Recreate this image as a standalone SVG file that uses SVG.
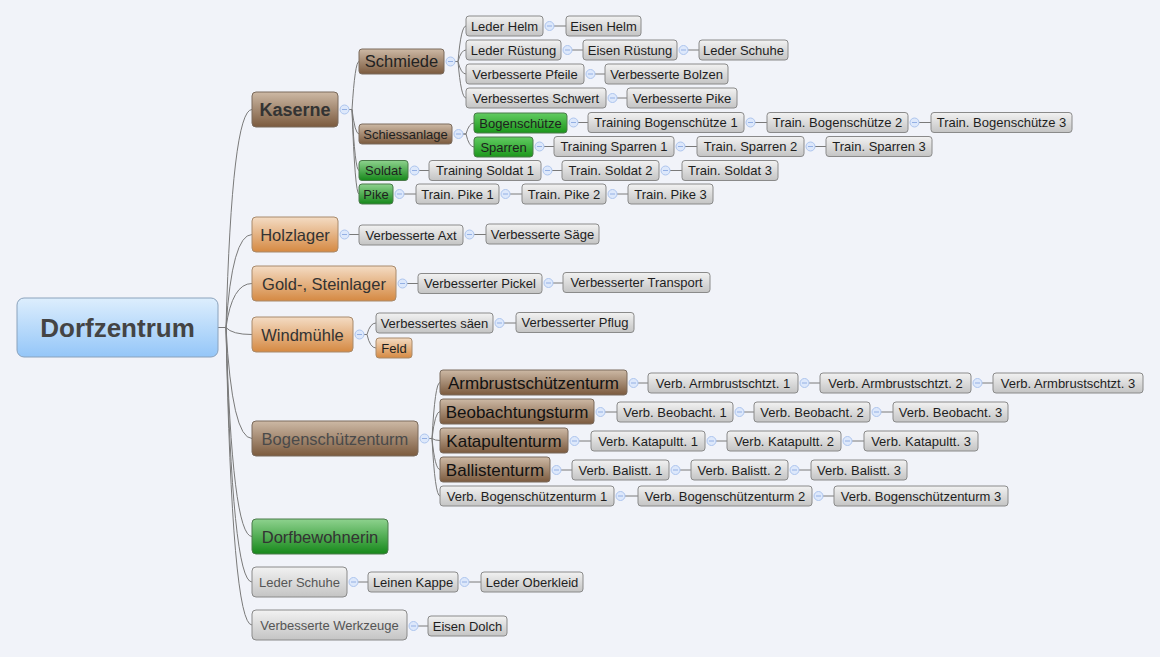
<svg xmlns="http://www.w3.org/2000/svg" xmlns:xlink="http://www.w3.org/1999/xlink" width="1160" height="657" viewBox="0 0 1160 657">
<defs>
<linearGradient id="gGray" x1="0" y1="0" x2="0" y2="1"><stop offset="0" stop-color="#f2f2f2"/><stop offset="1" stop-color="#c4c4c4"/></linearGradient>
<linearGradient id="gBrown" x1="0" y1="0" x2="0" y2="1"><stop offset="0" stop-color="#cdb9a5"/><stop offset="1" stop-color="#7b5a3e"/></linearGradient>
<linearGradient id="gOrange" x1="0" y1="0" x2="0" y2="1"><stop offset="0" stop-color="#f4dcc4"/><stop offset="1" stop-color="#d58942"/></linearGradient>
<linearGradient id="gGreen" x1="0" y1="0" x2="0" y2="1"><stop offset="0" stop-color="#8ed28e"/><stop offset="1" stop-color="#16881a"/></linearGradient>
<linearGradient id="gGreen2" x1="0" y1="0" x2="0" y2="1"><stop offset="0" stop-color="#62cc62"/><stop offset="1" stop-color="#1c961c"/></linearGradient>
<linearGradient id="gBlue" x1="0" y1="0" x2="0" y2="1"><stop offset="0" stop-color="#ddeefd"/><stop offset="1" stop-color="#94c6f8"/></linearGradient>
<g id="tog"><circle cx="0" cy="0" r="4.5" fill="#dde8fb" stroke="#adc5ee" stroke-width="1"/><line x1="-2.5" y1="0" x2="2.5" y2="0" stroke="#94b0e4" stroke-width="1"/></g>
</defs>
<style>
text{font-family:"Liberation Sans",Arial,sans-serif;text-anchor:middle;fill:#1e1e1e}
rect{stroke:#8a8a8a;stroke-width:1}
rect.bg{fill:#f1f3f9;stroke:none}
.gray{fill:url(#gGray)}
.brown{fill:url(#gBrown);stroke:#7a6a5c}
.orange{fill:url(#gOrange);stroke:#a88a6c}
.green{fill:url(#gGreen);stroke:#4a7a4a}
.green2{fill:url(#gGreen2);stroke:#4a7a4a}
.blue{fill:url(#gBlue);stroke:#8aa2bc}
.s{font-size:13px}
.m{font-size:16.5px}
.l{font-size:17px;fill:#333}
.dim{fill:#555}
.conn path,.conn line{fill:none;stroke:#7a7a7a;stroke-width:1}
</style>
<rect class="bg" x="0" y="0" width="1160" height="657"/>

<g class="conn">
<!-- root -->
<path d="M218,327.5 H226 Q232,109.5 252,109.5"/>
<path d="M218,327.5 H226 Q232,234.5 252,234.5"/>
<path d="M218,327.5 H226 Q232,283.5 252,283.5"/>
<path d="M218,327.5 H226 Q232,334.5 252,334.5"/>
<path d="M218,327.5 H226 Q232,438.5 252,438.5"/>
<path d="M218,327.5 H226 Q232,536.5 252,536.5"/>
<path d="M218,327.5 H226 Q232,582 252,582"/>
<path d="M218,327.5 H226 Q232,625 252,625"/>
<!-- Kaserne -->
<path d="M349,109.5 H352 Q355,61.5 359,61.5"/>
<path d="M349,109.5 H352 Q355,134 359,134"/>
<path d="M349,109.5 H352 Q355,170.5 359,170.5"/>
<path d="M349,109.5 H352 Q355,194 359,194"/>
<!-- Schmiede -->
<path d="M455,61.5 H458 Q461,26 466,26"/>
<path d="M455,61.5 H458 Q461,50 466,50"/>
<path d="M455,61.5 H458 Q461,74 466,74"/>
<path d="M455,61.5 H458 Q461,98 466,98"/>
<!-- Schiessanlage -->
<path d="M463,134 H466 Q469,123 474,123"/>
<path d="M463,134 H466 Q469,147 474,147"/>
<!-- Windmuehle -->
<path d="M364,334.5 H367 Q370,323 376,323"/>
<path d="M364,334.5 H367 Q370,348 376,348"/>
<!-- Bogenschuetzenturm -->
<path d="M429,438.5 H432 Q435,382.5 440,382.5"/>
<path d="M429,438.5 H432 Q435,411.5 440,411.5"/>
<path d="M429,438.5 H432 Q435,440.5 440,440.5"/>
<path d="M429,438.5 H432 Q435,469.5 440,469.5"/>
<path d="M429,438.5 H432 Q435,496 440,496"/>
<!-- chains -->
<line x1="554" y1="26" x2="566" y2="26"/>
<line x1="572" y1="50" x2="583" y2="50"/><line x1="688" y1="50" x2="699" y2="50"/>
<line x1="595" y1="74" x2="605" y2="74"/>
<line x1="617" y1="98" x2="627" y2="98"/>
<line x1="578" y1="122.5" x2="588" y2="122.5"/><line x1="755" y1="122.5" x2="767" y2="122.5"/><line x1="919" y1="122.5" x2="931" y2="122.5"/>
<line x1="544" y1="146.5" x2="554" y2="146.5"/><line x1="685" y1="146.5" x2="697" y2="146.5"/><line x1="815" y1="146.5" x2="826" y2="146.5"/>
<line x1="419" y1="170.5" x2="429" y2="170.5"/><line x1="552" y1="170.5" x2="562" y2="170.5"/><line x1="670" y1="170.5" x2="682" y2="170.5"/>
<line x1="404" y1="194" x2="416" y2="194"/><line x1="510" y1="194" x2="522" y2="194"/><line x1="617" y1="194" x2="628" y2="194"/>
<line x1="349" y1="234.5" x2="359" y2="234.5"/><line x1="474" y1="234.5" x2="486" y2="234.5"/>
<line x1="407" y1="283.5" x2="418" y2="283.5"/><line x1="553" y1="283" x2="563" y2="283"/>
<line x1="504" y1="323" x2="516" y2="323"/>
<line x1="638" y1="383" x2="648" y2="383"/><line x1="809" y1="383" x2="820" y2="383"/><line x1="982" y1="383" x2="993" y2="383"/>
<line x1="605" y1="412" x2="617" y2="412"/><line x1="744" y1="412" x2="754" y2="412"/><line x1="881" y1="412" x2="893" y2="412"/>
<line x1="579" y1="441" x2="591" y2="441"/><line x1="716" y1="441" x2="727" y2="441"/><line x1="852" y1="441" x2="864" y2="441"/>
<line x1="561" y1="470" x2="572" y2="470"/><line x1="680" y1="470" x2="691" y2="470"/><line x1="799" y1="470" x2="811" y2="470"/>
<line x1="625" y1="496" x2="638" y2="496"/><line x1="823" y1="496" x2="834" y2="496"/>
<line x1="358" y1="582" x2="368" y2="582"/><line x1="469" y1="582" x2="481" y2="582"/>
<line x1="418" y1="626" x2="428" y2="626"/>
</g>

<g id="toggles">
<use xlink:href="#tog" x="344.5" y="109.5"/>
<use xlink:href="#tog" x="450.5" y="61.5"/>
<use xlink:href="#tog" x="458.5" y="134"/>
<use xlink:href="#tog" x="359.5" y="334.5"/>
<use xlink:href="#tog" x="424.5" y="438.5"/>
<use xlink:href="#tog" x="549.5" y="26"/>
<use xlink:href="#tog" x="567.5" y="50"/><use xlink:href="#tog" x="683.5" y="50"/>
<use xlink:href="#tog" x="590.5" y="74"/>
<use xlink:href="#tog" x="612.5" y="98"/>
<use xlink:href="#tog" x="573.5" y="122.5"/><use xlink:href="#tog" x="750.5" y="122.5"/><use xlink:href="#tog" x="914.5" y="122.5"/>
<use xlink:href="#tog" x="539.5" y="146.5"/><use xlink:href="#tog" x="680.5" y="146.5"/><use xlink:href="#tog" x="810.5" y="146.5"/>
<use xlink:href="#tog" x="414.5" y="170.5"/><use xlink:href="#tog" x="547.5" y="170.5"/><use xlink:href="#tog" x="665.5" y="170.5"/>
<use xlink:href="#tog" x="399.5" y="194"/><use xlink:href="#tog" x="505.5" y="194"/><use xlink:href="#tog" x="612.5" y="194"/>
<use xlink:href="#tog" x="344.5" y="234.5"/><use xlink:href="#tog" x="469.5" y="234.5"/>
<use xlink:href="#tog" x="402.5" y="283.5"/><use xlink:href="#tog" x="548.5" y="283"/>
<use xlink:href="#tog" x="499.5" y="323"/>
<use xlink:href="#tog" x="633.5" y="383"/><use xlink:href="#tog" x="804.5" y="383"/><use xlink:href="#tog" x="977.5" y="383"/>
<use xlink:href="#tog" x="600.5" y="412"/><use xlink:href="#tog" x="739.5" y="412"/><use xlink:href="#tog" x="876.5" y="412"/>
<use xlink:href="#tog" x="574.5" y="441"/><use xlink:href="#tog" x="711.5" y="441"/><use xlink:href="#tog" x="847.5" y="441"/>
<use xlink:href="#tog" x="556.5" y="470"/><use xlink:href="#tog" x="675.5" y="470"/><use xlink:href="#tog" x="794.5" y="470"/>
<use xlink:href="#tog" x="620.5" y="496"/><use xlink:href="#tog" x="818.5" y="496"/>
<use xlink:href="#tog" x="353.5" y="582"/><use xlink:href="#tog" x="464.5" y="582"/>
<use xlink:href="#tog" x="413.5" y="626"/>
</g>

<g id="dorfzentrum"><rect class="blue" x="17" y="298" width="201" height="59" rx="7"/><text x="117.5" y="336.5" style="font-size:26px;font-weight:bold;fill:#444">Dorfzentrum</text></g>

<g id="kaserne"><rect class="brown" x="252" y="92" width="86" height="35" rx="4"/><text x="295" y="116" style="font-size:18px;font-weight:bold;fill:#333">Kaserne</text></g>
<g id="holzlager"><rect class="orange" x="252" y="217" width="86" height="35" rx="4"/><text class="m" x="295" y="240.5" style="fill:#333">Holzlager</text></g>
<g id="goldsteinlager"><rect class="orange" x="252" y="266" width="144" height="35" rx="4"/><text class="m" x="324" y="289.5" style="fill:#333">Gold-, Steinlager</text></g>
<g id="windmuehle"><rect class="orange" x="252" y="317" width="101" height="35" rx="4"/><text class="m" x="302.5" y="340.5" style="fill:#333">Windmühle</text></g>
<g id="bogenschuetzenturm"><rect class="brown" x="252" y="421" width="166" height="35" rx="4"/><text class="m" x="335" y="444.5" style="fill:#4a4a4a">Bogenschützenturm</text></g>
<g id="dorfbewohnerin"><rect class="green" x="252" y="519" width="136" height="35" rx="4"/><text class="m" x="320" y="542.5" style="fill:#333">Dorfbewohnerin</text></g>
<g id="lederschuhe-main"><rect class="gray" x="252" y="567" width="95" height="30" rx="4"/><text class="s dim" x="299.5" y="586.5">Leder Schuhe</text></g>
<g id="verbesserte-werkzeuge"><rect class="gray" x="252" y="610" width="155" height="30" rx="4"/><text class="s dim" x="329.5" y="629.5">Verbesserte Werkzeuge</text></g>

<g id="schmiede"><rect class="brown" x="359" y="49" width="85" height="25" rx="3"/><text x="401.5" y="67.3" style="font-size:16.5px;fill:#222">Schmiede</text></g>
<g id="schiessanlage"><rect class="brown" x="359" y="124" width="93" height="20" rx="3"/><text class="s" x="405.5" y="138.5">Schiessanlage</text></g>
<g id="soldat"><rect class="green" x="359" y="160.5" width="49" height="20" rx="3"/><text class="s" x="383.5" y="175">Soldat</text></g>
<g id="pike"><rect class="green" x="359" y="184" width="34" height="20" rx="3"/><text class="s" x="376" y="198.5">Pike</text></g>

<g id="lederhelm"><rect class="gray" x="466" y="16" width="77" height="20" rx="3"/><text class="s" x="504.5" y="30.5">Leder Helm</text></g>
<g id="eisenhelm"><rect class="gray" x="566" y="16" width="75" height="20" rx="3"/><text class="s" x="603.5" y="30.5">Eisen Helm</text></g>
<g id="lederruestung"><rect class="gray" x="466" y="40" width="95" height="20" rx="3"/><text class="s" x="513.5" y="54.5">Leder Rüstung</text></g>
<g id="eisenruestung"><rect class="gray" x="583" y="40" width="94" height="20" rx="3"/><text class="s" x="630" y="54.5">Eisen Rüstung</text></g>
<g id="lederschuhe"><rect class="gray" x="699" y="40" width="89" height="20" rx="3"/><text class="s" x="743.5" y="54.5">Leder Schuhe</text></g>
<g id="pfeile"><rect class="gray" x="466" y="64" width="118" height="20" rx="3"/><text class="s" x="525" y="78.5">Verbesserte Pfeile</text></g>
<g id="bolzen"><rect class="gray" x="605" y="64" width="123" height="20" rx="3"/><text class="s" x="666.5" y="78.5">Verbesserte Bolzen</text></g>
<g id="schwert"><rect class="gray" x="466" y="88" width="140" height="20" rx="3"/><text class="s" x="536" y="102.5">Verbessertes Schwert</text></g>
<g id="vpike"><rect class="gray" x="627" y="88" width="110" height="20" rx="3"/><text class="s" x="682" y="102.5">Verbesserte Pike</text></g>

<g id="bogenschuetze"><rect class="green2" x="474" y="113" width="93" height="20" rx="3"/><text class="s" x="520.5" y="127.5">Bogenschütze</text></g>
<g id="sparren"><rect class="green2" x="474" y="137" width="59" height="20" rx="3"/><text class="s" x="503.5" y="151.5">Sparren</text></g>
<g id="tbog1"><rect class="gray" x="588" y="112.5" width="156" height="20" rx="3"/><text class="s" x="666" y="127">Training Bogenschütze 1</text></g>
<g id="tbog2"><rect class="gray" x="767" y="112.5" width="141" height="20" rx="3"/><text class="s" x="837.5" y="127">Train. Bogenschütze 2</text></g>
<g id="tbog3"><rect class="gray" x="931" y="112.5" width="141" height="20" rx="3"/><text class="s" x="1001.5" y="127">Train. Bogenschütze 3</text></g>
<g id="tspa1"><rect class="gray" x="554" y="136.5" width="120" height="20" rx="3"/><text class="s" x="614" y="151">Training Sparren 1</text></g>
<g id="tspa2"><rect class="gray" x="697" y="136.5" width="107" height="20" rx="3"/><text class="s" x="750.5" y="151">Train. Sparren 2</text></g>
<g id="tspa3"><rect class="gray" x="826" y="136.5" width="106" height="20" rx="3"/><text class="s" x="879" y="151">Train. Sparren 3</text></g>
<g id="tsol1"><rect class="gray" x="429" y="160.5" width="112" height="20" rx="3"/><text class="s" x="485" y="175">Training Soldat 1</text></g>
<g id="tsol2"><rect class="gray" x="562" y="160.5" width="97" height="20" rx="3"/><text class="s" x="610.5" y="175">Train. Soldat 2</text></g>
<g id="tsol3"><rect class="gray" x="682" y="160.5" width="96" height="20" rx="3"/><text class="s" x="730" y="175">Train. Soldat 3</text></g>
<g id="tpik1"><rect class="gray" x="416" y="184" width="83" height="20" rx="3"/><text class="s" x="457.5" y="198.5">Train. Pike 1</text></g>
<g id="tpik2"><rect class="gray" x="522" y="184" width="84" height="20" rx="3"/><text class="s" x="564" y="198.5">Train. Pike 2</text></g>
<g id="tpik3"><rect class="gray" x="628" y="184" width="85" height="20" rx="3"/><text class="s" x="670.5" y="198.5">Train. Pike 3</text></g>

<g id="axt"><rect class="gray" x="359" y="225" width="104" height="20" rx="3"/><text class="s" x="411" y="239.5">Verbesserte Axt</text></g>
<g id="saege"><rect class="gray" x="486" y="224" width="113" height="20" rx="3"/><text class="s" x="542.5" y="238.5">Verbesserte Säge</text></g>
<g id="pickel"><rect class="gray" x="418" y="273.5" width="124" height="20" rx="3"/><text class="s" x="480" y="288">Verbesserter Pickel</text></g>
<g id="transport"><rect class="gray" x="563" y="272.5" width="147" height="20" rx="3"/><text class="s" x="636.5" y="287">Verbesserter Transport</text></g>
<g id="saeen"><rect class="gray" x="376" y="313" width="117" height="20" rx="3"/><text class="s" x="434.5" y="327.5">Verbessertes säen</text></g>
<g id="pflug"><rect class="gray" x="516" y="312.5" width="118" height="20" rx="3"/><text class="s" x="575" y="327">Verbesserter Pflug</text></g>
<g id="feld"><rect class="orange" x="376" y="338" width="36" height="20" rx="3"/><text class="s" x="394" y="352.5">Feld</text></g>

<g id="armbrust"><rect class="brown" x="440" y="370" width="187" height="25" rx="3"/><text class="l" x="533.5" y="388.5" style="fill:#111">Armbrustschützenturm</text></g>
<g id="beobachtung"><rect class="brown" x="440" y="399" width="154" height="25" rx="3"/><text class="l" x="517" y="417.5" style="fill:#111">Beobachtungsturm</text></g>
<g id="katapult"><rect class="brown" x="440" y="428" width="128" height="25" rx="3"/><text class="l" x="504" y="446.5" style="fill:#111">Katapultenturm</text></g>
<g id="ballisten"><rect class="brown" x="440" y="457" width="110" height="25" rx="3"/><text class="l" x="495" y="475.5" style="fill:#111">Ballistenturm</text></g>
<g id="vbt1"><rect class="gray" x="440" y="486" width="174" height="20" rx="3"/><text class="s" x="527" y="500.5">Verb. Bogenschützenturm 1</text></g>
<g id="vbt2"><rect class="gray" x="638" y="486" width="174" height="20" rx="3"/><text class="s" x="725" y="500.5">Verb. Bogenschützenturm 2</text></g>
<g id="vbt3"><rect class="gray" x="834" y="486" width="174" height="20" rx="3"/><text class="s" x="921" y="500.5">Verb. Bogenschützenturm 3</text></g>

<g id="va1"><rect class="gray" x="648" y="373" width="150" height="20" rx="3"/><text class="s" x="723" y="387.5">Verb. Armbrustschtzt. 1</text></g>
<g id="va2"><rect class="gray" x="820" y="373" width="151" height="20" rx="3"/><text class="s" x="895.5" y="387.5">Verb. Armbrustschtzt. 2</text></g>
<g id="va3"><rect class="gray" x="993" y="373" width="150" height="20" rx="3"/><text class="s" x="1068" y="387.5">Verb. Armbrustschtzt. 3</text></g>
<g id="vb1"><rect class="gray" x="617" y="402" width="116" height="20" rx="3"/><text class="s" x="675" y="416.5">Verb. Beobacht. 1</text></g>
<g id="vb2"><rect class="gray" x="754" y="402" width="116" height="20" rx="3"/><text class="s" x="812" y="416.5">Verb. Beobacht. 2</text></g>
<g id="vb3"><rect class="gray" x="893" y="402" width="115" height="20" rx="3"/><text class="s" x="950.5" y="416.5">Verb. Beobacht. 3</text></g>
<g id="vk1"><rect class="gray" x="591" y="431" width="114" height="20" rx="3"/><text class="s" x="648" y="445.5">Verb. Katapultt. 1</text></g>
<g id="vk2"><rect class="gray" x="727" y="431" width="114" height="20" rx="3"/><text class="s" x="784" y="445.5">Verb. Katapultt. 2</text></g>
<g id="vk3"><rect class="gray" x="864" y="431" width="114" height="20" rx="3"/><text class="s" x="921" y="445.5">Verb. Katapultt. 3</text></g>
<g id="vl1"><rect class="gray" x="572" y="460" width="97" height="20" rx="3"/><text class="s" x="620.5" y="474.5">Verb. Balistt. 1</text></g>
<g id="vl2"><rect class="gray" x="691" y="460" width="97" height="20" rx="3"/><text class="s" x="739.5" y="474.5">Verb. Balistt. 2</text></g>
<g id="vl3"><rect class="gray" x="811" y="460" width="96" height="20" rx="3"/><text class="s" x="859" y="474.5">Verb. Balistt. 3</text></g>

<g id="leinenkappe"><rect class="gray" x="368" y="572" width="90" height="20" rx="3"/><text class="s" x="413" y="586.5">Leinen Kappe</text></g>
<g id="lederoberkleid"><rect class="gray" x="481" y="572" width="102" height="20" rx="3"/><text class="s" x="532" y="586.5">Leder Oberkleid</text></g>
<g id="eisendolch"><rect class="gray" x="428" y="616" width="79" height="20" rx="3"/><text class="s" x="467.5" y="630.5">Eisen Dolch</text></g>
</svg>
